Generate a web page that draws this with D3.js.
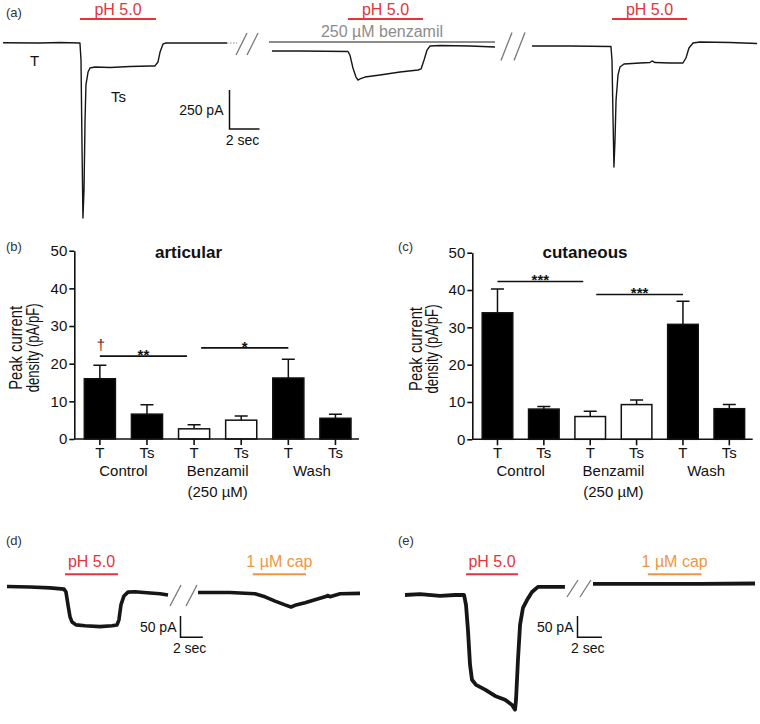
<!DOCTYPE html>
<html>
<head>
<meta charset="utf-8">
<script src="https://cdn.jsdelivr.net/npm/d3@7"></script>
<style>
  body { margin: 0; background: #fff; }
  text { font-family: "Liberation Sans", Arial, Helvetica, sans-serif; fill: #111; }
</style>
</head>
<body>
<script>
// ---- data ----
// traces: [time (s), current (pA) relative to trace baseline]
var aTraceControl = [[0,0],[2.47,-2],[3.8,1],[5.13,-2],[5.2,-111],[5.27,-688],[5.33,-1124],[5.4,-945],
  [5.47,-496],[5.53,-271],[5.67,-188],[5.8,-162],[6.13,-156],[7.13,-159],[8.47,-153],[9.8,-149],
  [10.13,-149],[10.33,-124],[10.47,-60],[10.67,-8],[10.87,-2],[12.47,-2],[14.93,-2]];
var aTraceBenzamil = [[17.93,0],[19.8,0],[23,-3],[23.13,-26],[23.33,-109],[23.53,-167],[23.67,-186],
  [23.8,-179],[24.13,-167],[25.13,-154],[26.47,-135],[27.67,-122],[27.87,-115],[28.07,-58],[28.27,6],
  [28.47,32],[29.13,35],[31.13,32],[32.8,26]];
var aTraceWash = [[35.27,0],[37.8,0],[40.53,-3],[40.6,-90],[40.67,-474],[40.73,-776],[40.8,-603],
  [40.87,-346],[41,-186],[41.13,-135],[41.4,-115],[42.47,-109],[43.13,-106],[43.27,-96],[43.47,-106],
  [44.47,-109],[45.33,-109],[45.53,-77],[45.73,-13],[46,19],[46.47,26],[48.47,22],[50.27,16]];
var aPH = [[5.13,10.2],[23,28],[40.6,45.6]];
var aBenzamil = [17.73,32.8];

var dTracePH = [[0,1],[2.06,0],[3.86,-2],[5.11,-5],[5.29,-12],[5.47,-42],[5.65,-70],[5.83,-82],
  [6.19,-89],[7.0,-91],[8.34,-93],[9.42,-91],[9.87,-89],[10.04,-77],[10.22,-42],[10.49,-21],
  [10.85,-12],[11.48,-11],[12.83,-14],[13.72,-16],[14.44,-19]];
var dTraceCap = [[17.13,-13],[20.0,-13],[22.24,-16],[23.14,-23],[24.04,-33],[24.93,-42],[25.47,-47],
  [25.83,-43],[26.73,-37],[27.62,-30],[28.52,-23],[28.79,-20],[28.97,-23],[29.87,-16],[31.66,-15]];
var dPH = [5.2,9.96], dCap = [22.04,26.82];

var eTracePH = [[0,0],[1.23,2],[2.87,-2],[4.1,0],[4.84,0],[5.0,-23],[5.16,-82],[5.33,-164],[5.49,-199],
  [5.82,-211],[6.56,-222],[7.38,-237],[8.2,-246],[8.77,-258],[9.02,-269],[9.1,-246],[9.26,-152],
  [9.43,-70],[9.67,-30],[10.0,-12],[10.41,7],[10.9,19],[11.89,19],[13.11,19]];
var eTraceCap = [[15.41,26],[20.08,26],[24.18,26],[28.69,27]];
var ePH = [5.0,9.26], eCap = [19.9,24.3];

// bar charts (pA/pF), order: Control T, Ts, Benzamil T, Ts, Wash T, Ts
var conditions = ["Control", "Benzamil", "Wash"];
var currentTypes = ["T", "Ts"];
var articularMean = [16.0, 6.6, 2.7, 5.0, 16.2, 5.5];
var articularSem  = [3.6, 2.5, 1.1, 1.1, 5.0, 1.1];
var cutaneousMean = [33.9, 8.1, 6.1, 9.3, 30.8, 8.2];
var cutaneousSem  = [6.4, 0.7, 1.4, 1.2, 6.2, 1.1];
var yTicks = [0, 10, 20, 30, 40, 50];
var articularSig = [{from: 0, to: 1.85, y: 22, label: "**"}, {from: 2.15, to: 4, y: 24.2, label: "*"}];
var cutaneousSig = [{from: 0, to: 1.85, y: 42.3, label: "***"}, {from: 2.13, to: 4, y: 38.8, label: "***"}];

var red = "#e2363c", orange = "#f2953f", grey = "#8c8c8c";

var svg = d3.select("body").append("svg").attr("width", 760).attr("height", 724);

// ---- helpers ----
function yTrace(base, pa, px) {
  return d3.scaleLinear().domain([0, -pa]).range([base, base + px]);
}

function addTrace(x, y, pts, w) {
  var line = d3.line().x(function(d) { return x(d[0]); }).y(function(d) { return y(d[1]); });
  svg.append("path").datum(pts)
    .attr("d", line)
    .attr("fill", "none")
    .attr("stroke", "#161616")
    .attr("stroke-width", w)
    .attr("stroke-linejoin", "round");
}

function addStim(x, span, yPos, color, label, labelY) {
  svg.append("line")
    .attr("x1", x(span[0])).attr("x2", x(span[1]))
    .attr("y1", yPos).attr("y2", yPos)
    .attr("stroke", color).attr("stroke-width", 2);
  if (label) {
    svg.append("text")
      .attr("x", (x(span[0]) + x(span[1])) / 2).attr("y", labelY)
      .attr("text-anchor", "middle")
      .style("fill", color).style("font-size", "16px")
      .text(label);
  }
}

function addBreak(cx, cy, dx, dy, gap) {
  [-gap / 2, gap / 2].forEach(function(o) {
    svg.append("line")
      .attr("x1", cx + o - dx).attr("y1", cy + dy)
      .attr("x2", cx + o + dx).attr("y2", cy - dy)
      .attr("stroke", "#777").attr("stroke-width", 1.3);
  });
}

function addScaleBar(x0, y0, xs, ys, secs, pa, paLabel, secLabel, gap) {
  var w = xs(secs) - xs(0), h = ys(-pa) - ys(0);
  svg.append("path")
    .attr("d", "M" + x0 + "," + (y0 - h) + "V" + y0 + "H" + (x0 + w))
    .attr("fill", "none").attr("stroke", "#111").attr("stroke-width", 1.5);
  svg.append("text").attr("x", x0 - gap).attr("y", y0 - h / 2 + 5)
    .attr("text-anchor", "end").style("font-size", "14px").text(paLabel);
  svg.append("text").attr("x", x0 + w / 2 - 2).attr("y", y0 + 16)
    .attr("text-anchor", "middle").style("font-size", "14px").text(secLabel);
}

function panelLabel(x, y, t) {
  svg.append("text").attr("x", x).attr("y", y)
    .style("font-size", "13px").style("fill", "#333").text(t);
}

// ---- panel (a) ----
var xA = d3.scaleLinear().domain([0, 1]).range([3, 18]);   // 2 sec = 30 px
addTrace(xA, yTrace(42.7, 250, 39), aTraceControl, 1.4);
addTrace(xA, yTrace(51, 250, 39), aTraceBenzamil, 1.4);
addTrace(xA, yTrace(46, 250, 39), aTraceWash, 1.4);

aPH.forEach(function(s) { addStim(xA, s, 19, red, "pH 5.0", 15); });
addStim(xA, aBenzamil, 42, grey, "250 µM benzamil", 37);

// dotted continuation into the first break
svg.append("line")
  .attr("x1", xA(14.93)).attr("x2", xA(15.6))
  .attr("y1", 43).attr("y2", 43)
  .attr("stroke", "#888").attr("stroke-width", 1.2).attr("stroke-dasharray", "1.5,1.5");
addBreak(xA(16.27), 44, 5.5, 11, 11);
addBreak(xA(34.0), 46.5, 5.5, 14, 13);

svg.append("text").attr("x", 30).attr("y", 66).style("font-size", "15px").text("T");
svg.append("text").attr("x", 111).attr("y", 102).style("font-size", "15px").text("Ts");
addScaleBar(229.5, 129, xA, yTrace(0, 250, 39), 2, 250, "250 pA", "2 sec", 6);
panelLabel(6, 17, "(a)");

// ---- panels (b) and (c) ----
function barPanel(o) {
  var x = d3.scaleBand().domain(d3.range(6))
    .range([o.left + 2, o.right])
    .paddingInner(0.34).paddingOuter(0.17);
  var y = d3.scaleLinear().domain([0, 50]).range([o.bottom, o.top]);
  var cx = function(i) { return x(Math.floor(i)) + x.bandwidth() / 2 + (i - Math.floor(i)) * x.step(); };
  var g = svg.append("g");

  // error bars (up only)
  g.selectAll(".err").data(o.mean).enter().append("path")
    .attr("d", function(d, i) {
      var c = cx(i), t = y(d + o.sem[i]);
      return "M" + c + "," + y(d) + "V" + t + "M" + (c - 6.5) + "," + t + "H" + (c + 6.5);
    })
    .attr("fill", "none").attr("stroke", "#111").attr("stroke-width", 1.5);

  g.selectAll(".bar").data(o.mean).enter().append("rect")
    .attr("x", function(d, i) { return x(i); })
    .attr("y", function(d) { return y(d); })
    .attr("width", x.bandwidth())
    .attr("height", function(d) { return o.bottom - y(d); })
    .attr("fill", function(d, i) { return Math.floor(i / 2) === 1 ? "#fff" : "#000"; })
    .attr("stroke", "#111").attr("stroke-width", 1.5);

  var ya = g.append("g").attr("transform", "translate(" + o.left + ",0)")
    .call(d3.axisLeft(y).tickValues(yTicks).tickSize(5).tickPadding(2).tickSizeOuter(0));
  ya.selectAll("path, line").attr("stroke", "#111").attr("stroke-width", 1.6);
  ya.selectAll("text").style("font-size", "15px").attr("font-family", null);

  var xa = g.append("g").attr("transform", "translate(0," + o.bottom + ")")
    .call(d3.axisBottom(x).tickSize(6).tickPadding(2.5).tickSizeOuter(0)
      .tickFormat(function(i) { return currentTypes[i % 2]; }));
  xa.select(".domain").attr("d", "M" + o.left + ",0H" + o.axisEnd);
  xa.selectAll("path, line").attr("stroke", "#111").attr("stroke-width", 1.6);
  xa.selectAll("text").style("font-size", "15px").attr("font-family", null);

  conditions.forEach(function(c, k) {
    g.append("text").attr("x", (cx(2 * k) + cx(2 * k + 1)) / 2).attr("y", o.bottom + 37)
      .attr("text-anchor", "middle").style("font-size", "15px").text(c);
  });
  g.append("text").attr("x", (cx(2) + cx(3)) / 2).attr("y", o.bottom + 58)
    .attr("text-anchor", "middle").style("font-size", "15px").text("(250 µM)");

  o.sig.forEach(function(s) {
    g.append("line").attr("x1", cx(s.from)).attr("x2", cx(s.to))
      .attr("y1", y(s.y)).attr("y2", y(s.y))
      .attr("stroke", "#111").attr("stroke-width", 1.6);
    g.append("text").attr("x", (cx(s.from) + cx(s.to)) / 2).attr("y", y(s.y) + 4)
      .attr("text-anchor", "middle").style("font-size", "15px").style("font-weight", "bold")
      .text(s.label);
  });

  if (o.dagger) {
    g.append("text").attr("x", cx(0) + 1).attr("y", y(24) + 1)
      .attr("text-anchor", "middle").style("font-size", "15px").style("fill", "#6e1616")
      .text("†");
  }

  g.append("text").attr("x", o.titleX).attr("y", 258)
    .attr("text-anchor", "middle").style("font-size", "17px").style("font-weight", "bold")
    .text(o.title);

  var yl = (o.top + o.bottom) / 2 + 3;
  g.append("text").attr("transform", "translate(" + o.labelX + "," + yl + ") rotate(-90)")
    .attr("text-anchor", "middle").style("font-size", "18px")
    .attr("textLength", 84).attr("lengthAdjust", "spacingAndGlyphs")
    .text("Peak current");
  g.append("text").attr("transform", "translate(" + (o.labelX + 16.5) + "," + yl + ") rotate(-90)")
    .attr("text-anchor", "middle").style("font-size", "18px")
    .attr("textLength", 89).attr("lengthAdjust", "spacingAndGlyphs")
    .text("density (pA/pF)");
}

barPanel({left: 74.3, right: 359, axisEnd: 359, top: 250.7, bottom: 439,
  mean: articularMean, sem: articularSem, sig: articularSig, dagger: true,
  title: "articular", titleX: 188.5, labelX: 22});
barPanel({left: 472.3, right: 752.5, axisEnd: 752.7, top: 252.7, bottom: 439.3,
  mean: cutaneousMean, sem: cutaneousSem, sig: cutaneousSig, dagger: false,
  title: "cutaneous", titleX: 585, labelX: 421.5});
panelLabel(6, 251, "(b)");
panelLabel(398, 251, "(c)");

// ---- panel (d) ----
var xD = d3.scaleLinear().domain([0, 1]).range([7, 18.15]);
var yD = yTrace(587, 50, 21.3);
addTrace(xD, yD, dTracePH, 3.6);
addTrace(xD, yD, dTraceCap, 3.6);
addStim(xD, dPH, 574.3, red, "pH 5.0", 567);
addStim(xD, dCap, 574.3, orange, "1 µM cap", 567);
addBreak(xD(15.83), 595.5, 5.5, 10.5, 16);
addScaleBar(180.5, 637.3, xD, yD, 2, 50, "50 pA", "2 sec", 4);
panelLabel(6, 545, "(d)");

// ---- panel (e) ----
var xE = d3.scaleLinear().domain([0, 1]).range([405, 417.2]);
var yE = yTrace(595, 50, 21.3);
addTrace(xE, yE, eTracePH, 3.8);
addTrace(xE, yE, eTraceCap, 3.8);
addStim(xE, ePH, 574.3, red, "pH 5.0", 567);
addStim(xE, eCap, 574.3, orange, "1 µM cap", 567);
addBreak(xE(14.26), 588.5, 5.5, 8.5, 13);
addScaleBar(577.5, 637.3, xE, yE, 2, 50, "50 pA", "2 sec", 4);
panelLabel(398, 545, "(e)");
</script>
</body>
</html>
